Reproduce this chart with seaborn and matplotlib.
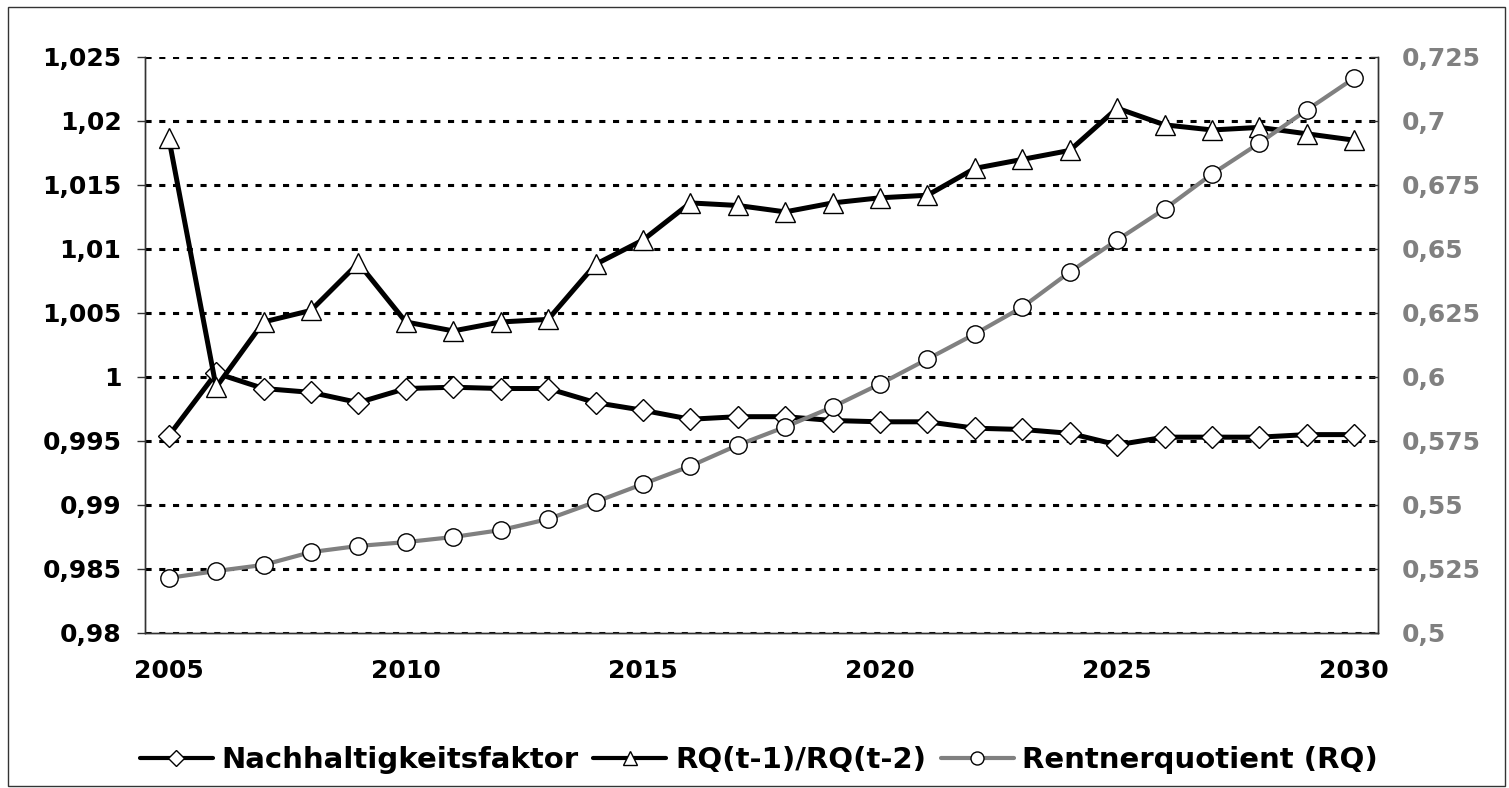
import matplotlib
matplotlib.use('Agg')
import matplotlib.pyplot as plt
from matplotlib.patches import Rectangle
import seaborn as sns

# Daten
jahre = list(range(2005, 2031))
nachhaltigkeitsfaktor = [0.9954, 1.0003, 0.9991, 0.9988, 0.9980, 0.9991, 0.9992, 0.9991, 0.9991,
                         0.9980, 0.9974, 0.9967, 0.9969, 0.9969, 0.9966, 0.9965, 0.9965, 0.9960,
                         0.9959, 0.9956, 0.9947, 0.9953, 0.9953, 0.9953, 0.9955, 0.9955]
rq_verhaeltnis = [1.0187, 0.9992, 1.0043, 1.0052, 1.0089, 1.0043, 1.0036, 1.0043, 1.0045,
                  1.0088, 1.0107, 1.0136, 1.0134, 1.0129, 1.0136, 1.0140, 1.0142, 1.0163,
                  1.0170, 1.0177, 1.0210, 1.0197, 1.0193, 1.0195, 1.0190, 1.0185]
rentnerquotient = [0.5215, 0.5242, 0.5266, 0.5316, 0.5340, 0.5355, 0.5375, 0.5402, 0.5445,
                   0.5512, 0.5582, 0.5652, 0.5734, 0.5805, 0.5883, 0.5973, 0.6070, 0.6168,
                   0.6273, 0.6410, 0.6535, 0.6656, 0.6793, 0.6914, 0.7043, 0.7168]

links_ticks = [0.98, 0.985, 0.99, 0.995, 1.0, 1.005, 1.01, 1.015, 1.02, 1.025]
links_labels = ['0,98', '0,985', '0,99', '0,995', '1', '1,005', '1,01', '1,015', '1,02', '1,025']
rechts_ticks = [0.5, 0.525, 0.55, 0.575, 0.6, 0.625, 0.65, 0.675, 0.7, 0.725]
rechts_labels = ['0,5', '0,525', '0,55', '0,575', '0,6', '0,625', '0,65', '0,675', '0,7', '0,725']
x_labels = ['2005', '2010', '2015', '2020', '2025', '2030']

sns.set_style('white')
plt.rcParams['font.family'] = ['DejaVu Sans']
plt.rcParams['font.weight'] = 'bold'
plt.rcParams['text.color'] = 'black'

fig = plt.figure(figsize=(15.09, 7.88), dpi=100)
ax = fig.add_axes([145 / 1509, 1 - 633 / 788, 1233 / 1509, 576 / 788])
ax2 = ax.twinx()

grau = '#808080'
sns.lineplot(x=jahre, y=nachhaltigkeitsfaktor, ax=ax, color='black', linewidth=3.6,
             marker='D', markersize=11, markerfacecolor='white', markeredgecolor='black',
             markeredgewidth=1, label='Nachhaltigkeitsfaktor', zorder=3)
sns.lineplot(x=jahre, y=rq_verhaeltnis, ax=ax, color='black', linewidth=3.6,
             marker='^', markersize=14, markerfacecolor='white', markeredgecolor='black',
             markeredgewidth=1, label='RQ(t-1)/RQ(t-2)', zorder=3)
sns.lineplot(x=jahre, y=rentnerquotient, ax=ax2, color=grau, linewidth=3,
             marker='o', markersize=12.5, markerfacecolor='white', markeredgecolor='black',
             markeredgewidth=1, label='Rentnerquotient (RQ)', zorder=3)

# Achsen
ax.set_xlim(2004.5, 2030.5)
ax.set_ylim(0.98, 1.025)
ax2.set_ylim(0.5, 0.725)
ax.set_xticks([2005, 2010, 2015, 2020, 2025, 2030])
ax.set_xticklabels(x_labels, fontsize=18, fontweight='bold', color='black')
ax.set_xticks([j - 0.5 for j in jahre] + [jahre[-1] + 0.5], minor=True)
ax.tick_params(axis='x', which='major', length=0, pad=19)
ax.tick_params(axis='x', which='minor', length=8, width=1, direction='out', color='#333333')

ax.set_yticks(links_ticks)
ax.set_yticklabels(links_labels, fontsize=18, fontweight='bold', color='black')
ax.tick_params(axis='y', length=6, width=1, direction='out', pad=11, color='#333333', left=True)
ax2.set_yticks(rechts_ticks)
ax2.set_yticklabels(rechts_labels, fontsize=18, fontweight='bold', color=grau)
ax2.tick_params(axis='y', length=6, width=1, direction='in', pad=17, color='#333333', right=True)

ax.yaxis.grid(True, color='black', linewidth=2.2, linestyle=(0, (2, 2.5)))
ax.xaxis.grid(False)
ax2.grid(False)
ax.set_axisbelow(True)
ax.set_xlabel('')
ax.set_ylabel('')

for a in (ax, ax2):
    a.spines['top'].set_visible(False)
    for s in ('left', 'right', 'bottom'):
        a.spines[s].set_color('#333333')
        a.spines[s].set_linewidth(1)

# Legende unten
h1, l1 = ax.get_legend_handles_labels()
h2, l2 = ax2.get_legend_handles_labels()
ax.get_legend().remove()
ax2.get_legend().remove()
leg = fig.legend(h1 + h2, l1 + l2, loc='center', bbox_to_anchor=(0.503, 1 - 760 / 788), ncol=3,
                 frameon=False, prop={'size': 21, 'weight': 'bold'}, handlelength=2.5,
                 handletextpad=0.3, columnspacing=0.5, markerscale=0.75)
for t in leg.get_texts():
    t.set_color('black')
for h in leg.legend_handles:
    h.set_linewidth(3)

# Rahmen um das Diagramm
fig.patches.append(Rectangle((8 / 1509, 2 / 788), 1497 / 1509, 779 / 788, transform=fig.transFigure,
                             fill=False, edgecolor='#333333', linewidth=1))

fig.savefig('out.png', dpi=100)
